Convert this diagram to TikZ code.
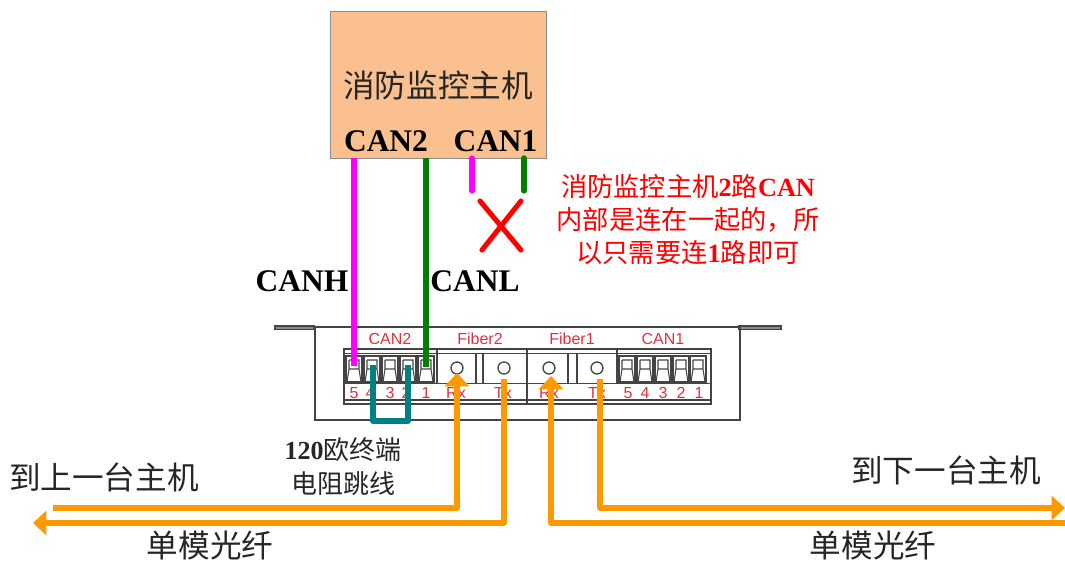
\documentclass[tikz,border=0pt]{standalone}
\usepackage{fontspec}
\setmainfont{Liberation Serif}
\setsansfont{Liberation Sans}
\newfontfamily\cjk{Noto Sans CJK SC}
\usetikzlibrary{arrows.meta}
\definecolor{boxfill}{HTML}{FAC090}
\definecolor{boxline}{HTML}{8C8C8C}
\definecolor{fiber}{HTML}{FF9900}
\definecolor{canh}{HTML}{FF00FF}
\definecolor{canl}{HTML}{007F00}
\definecolor{jump}{HTML}{008080}
\definecolor{devred}{HTML}{E0323C}
\definecolor{devline}{HTML}{444444}
\tikzset{
  x=0.75pt,y=-0.75pt,
  cjklabel/.style={font=\cjk\fontsize{23.7}{26}\selectfont,text=black!85,inner sep=0pt},
  canlabel/.style={font=\bfseries\fontsize{23.6}{26}\selectfont,inner sep=0pt},
  note/.style={font=\cjk\fontsize{19.7}{22}\selectfont,text=red,inner sep=0pt},
  resist/.style={font=\cjk\fontsize{19.5}{22}\selectfont,text=black!85,inner sep=0pt},
  devtext/.style={font=\sffamily\fontsize{12}{14}\selectfont,text=devred,inner sep=0pt},
  fiberline/.style={draw=fiber,line width=4.1pt,line join=round},
  fiberarrow/.style={fiberline,-{Triangle[length=10pt,width=18pt]}},
  magline/.style={draw=canh,line width=3.8pt},
  greenline/.style={draw=canl,line width=3.9pt},
  device/.style={draw=devline,line width=1pt},
  port/.style={circle,draw=devline,line width=1pt,minimum size=9pt,inner sep=0pt}
}
\newcommand{\termglyph}[1]{%
  \draw[device,line width=0.8pt] (#1-8,356) -- (#1+8,356) -- (#1+8,382) -- (#1-8,382) -- cycle;
  \draw[device,line width=0.8pt] (#1-5,360) -- (#1+5,360) -- (#1+5,369) -- (#1+7,382) (#1-5,360) -- (#1-5,369) -- (#1-7,382) (#1-5,369) -- (#1+5,369);
}
\begin{document}
\begin{tikzpicture}
\useasboundingbox (0,0) rectangle (1065,561);
% host
\node[draw=boxline,fill=boxfill,line width=0.8pt,minimum width=162pt,minimum height=110.5pt,inner sep=0pt,anchor=north west] (host) at (330,11) {};
\node[cjklabel] (title) at (438,85) {消防监控主机};
\node[canlabel] (can2) at (386,141) {CAN2};
\node[canlabel] (can1) at (495.5,141) {CAN1};
% device
\draw[device,fill=black!45] (275,326) rectangle (314,329.5);
\draw[device,fill=black!45] (739,326) rectangle (781,329.5);
\node[device,line width=1.2pt,minimum width=318.75pt,minimum height=69.75pt,inner sep=0pt,anchor=north west] (dev) at (314,326) {};
\node[device,line width=1.2pt,minimum width=275.25pt,minimum height=41.25pt,inner sep=0pt,anchor=north west] (strip) at (343,348) {};
\draw[device,line width=0.7pt] (343,383) -- (710,383);
\draw[device,line width=1.6pt] (343,400) -- (710,400);
\draw[device,line width=0.7pt] (343,353) -- (710,353);
\draw[device,line width=1.2pt] (437,348) -- (437,383);
\draw[device,line width=0.8pt] (476,353) -- (476,383) (483,353) -- (483,383);
\draw[device,line width=2.2pt] (527,348) -- (527,403);
\draw[device,line width=0.8pt] (568,353) -- (568,383) (577,353) -- (577,383);
\draw[device,line width=1.2pt] (617,348) -- (617,383);
\termglyph{354}\termglyph{372}\termglyph{390}\termglyph{408}\termglyph{426}
\termglyph{627}\termglyph{645}\termglyph{663}\termglyph{681}\termglyph{698}
\node[port] (p2rx) at (457,368) {};
\node[port] (p2tx) at (504,368) {};
\node[port] (p1rx) at (549,368) {};
\node[port] (p1tx) at (597,368) {};
\node[devtext] at (390,339) {CAN2};
\node[devtext] at (480,339) {Fiber2};
\node[devtext] at (572,339) {Fiber1};
\node[devtext] at (663,339) {CAN1};
\foreach \n/\px/\lab in {a/354/5,b/370/4,c/390/3,d/406/2,e/426/1,f/628/5,g/645/4,h/663/3,i/681/2,j/699/1}
  \node[devtext] (num\n) at (\px,393) {\lab};
\node[devtext] at (456,393) {Rx};
\node[devtext] at (503,393) {Tx};
\node[devtext] at (549,393) {Rx};
\node[devtext] at (597,393) {Tx};
% named ends
\coordinate (h1) at (354,158);
\coordinate (h2) at (354,366);
\coordinate (l1) at (426,158);
\coordinate (l2) at (426,367);
\coordinate (h3) at (472,158);
\coordinate (h4) at (472,191);
\coordinate (l3) at (524,158);
\coordinate (l4) at (524,191);
\draw[magline] (h1) -- (h2);
\draw[greenline] (l1) -- (l2);
\draw[magline,line cap=round] (h3) -- (h4);
\draw[greenline,line cap=round] (l3) -- (l4);
% cross
\coordinate (x1) at (480,201);
\coordinate (x2) at (521,250);
\coordinate (x3) at (521,201);
\coordinate (x4) at (482,250);
\draw[red,line width=3.8pt,line cap=round] (x1) -- (x2) (x3) -- (x4);
% labels
\node[canlabel] (canh) at (302,281) {CANH};
\node[canlabel] (canl) at (475,281) {CANL};
\node[note] (n1) at (688,187) {消防监控主机\textbf{\rmfamily 2}路\textbf{\rmfamily CAN}};
\node[note] (n2) at (688,220) {内部是连在一起的，所};
\node[note] (n3) at (688,253) {以只需要连\textbf{\rmfamily 1}路即可};
% jumper
\coordinate (j1) at (373,365);
\coordinate (j2) at (373,421);
\coordinate (j3) at (408,421);
\coordinate (j4) at (408,365);
\draw[draw=jump,line width=3.8pt,line join=round] (j1) -- (j2) -- (j3) -- (j4);
\node[resist] (r1) at (343,450) {\textbf{\rmfamily 120}欧终端};
\node[resist] (r2) at (343,484) {电阻跳线};
% fibers
\coordinate (a1) at (53,508);
\coordinate (a2) at (457,508);
\coordinate (a3) at (457,373);
\draw[fiberarrow] (a1) -- (a2) -- (a3);
\coordinate (b0) at (504,379);
\coordinate (b1) at (504,523);
\coordinate (b2) at (33,523);
\draw[fiberarrow] (b0) -- (b1) -- (b2);
\coordinate (c0) at (1065,523);
\coordinate (c1) at (551,523);
\coordinate (c2) at (551,376);
\draw[fiberarrow] (c0) -- (c1) -- (c2);
\coordinate (d0) at (600,379);
\coordinate (d1) at (600,508);
\coordinate (d2) at (1065,508);
\draw[fiberarrow] (d0) -- (d1) -- (d2);
\node[cjklabel] (up) at (104,477) {到上一台主机};
\node[cjklabel] (down) at (946,470) {到下一台主机};
\node[cjklabel] (s1) at (210,545) {单模光纤};
\node[cjklabel] (s2) at (873,545) {单模光纤};
\end{tikzpicture}
\end{document}
